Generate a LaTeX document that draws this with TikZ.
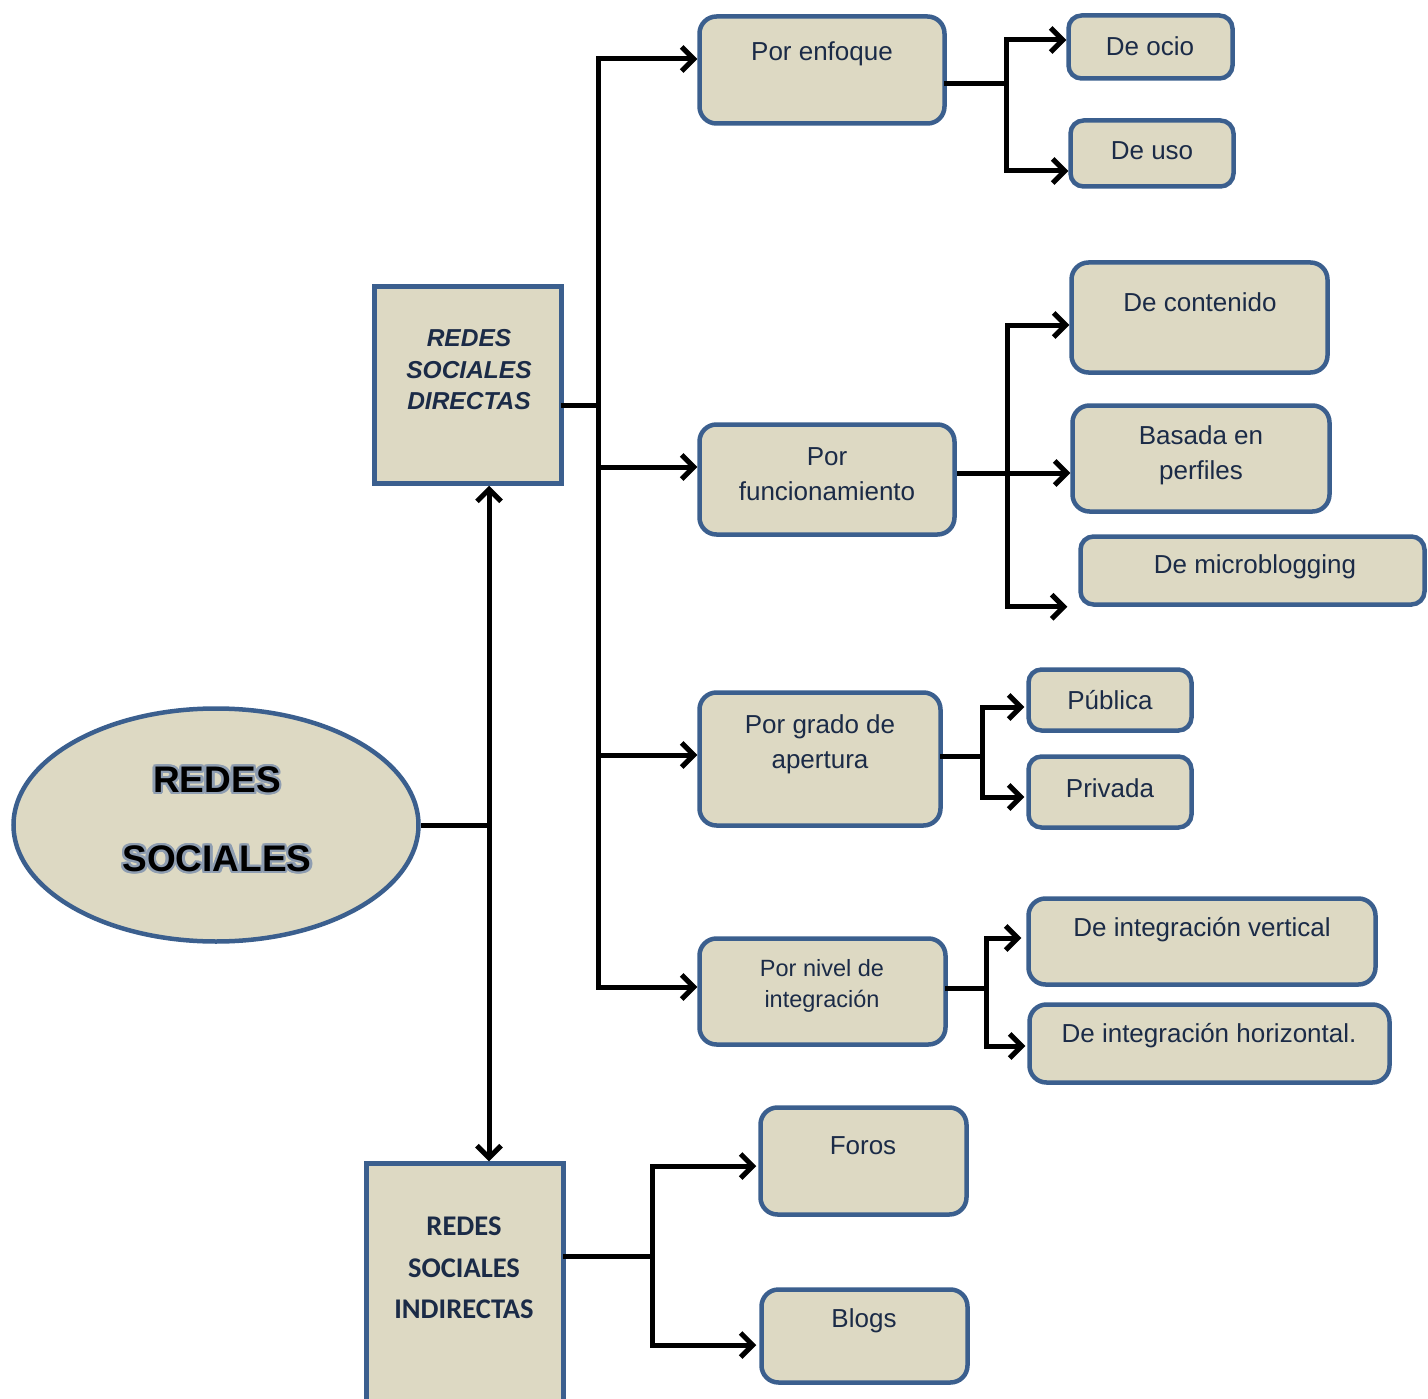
\documentclass[tikz,border=0pt]{standalone}
\usepackage{fontspec}
\setmainfont{Liberation Sans}
\newfontfamily\calib{Carlito}
\usepackage[copies]{contour}
\contourlength{2.4pt}
\contournumber{16}
\usetikzlibrary{arrows.meta,shapes.geometric}
\definecolor{boxfill}{HTML}{DDD9C3}
\definecolor{boxline}{HTML}{3B5F8E}
\definecolor{txt}{HTML}{1B2B47}
\definecolor{halo}{HTML}{8E9DB1}
\begin{document}
\begin{tikzpicture}[x=1pt,y=-1pt,
  box/.style={draw=boxline, fill=boxfill, line width=4.5pt, rounded corners=17pt, inner sep=0pt},
  sqbox/.style={draw=boxline, fill=boxfill, line width=4.5pt, inner sep=0pt},
  lbl/.style={text=txt, font=\fontsize{26}{35}\selectfont, align=center, inner sep=0pt},
  con/.style={line width=5pt, black, line cap=rect},
  tipb/.tip={Straight Barb[length=12pt,width=24pt,line width=5pt]},
  arr/.style={line width=5pt, black, -tipb},
  arrboth/.style={line width=5pt, black, tipb-tipb}]
\useasboundingbox (0,0) rectangle (1428,1399);

% ---- main ellipse
\node[draw=boxline, fill=boxfill, line width=4.5pt, ellipse, minimum width=405pt, minimum height=233pt, inner sep=0pt] (ell) at (216,825) {};
\node[align=center, inner sep=0pt, font=\fontsize{37}{79}\selectfont\bfseries] (tell) at (217,820.5) {\contour{halo}{REDES}\\\contour{halo}{SOCIALES}};

% ---- directas / indirectas
\node[sqbox, minimum width=187pt, minimum height=197pt] (dir) at (468,385) {};
\node[lbl, font=\fontsize{24.5}{31.5}\selectfont\bfseries\itshape] (tdir) at (469,370) {REDES\\SOCIALES\\DIRECTAS};
\node[sqbox, minimum width=197pt, minimum height=267pt] (ind) at (465,1297) {};
\node[lbl, font=\fontsize{28.5}{41.5}\selectfont\calib\bfseries] (tind) at (464,1268) {REDES\\SOCIALES\\INDIRECTAS};

% ---- level 2 boxes
\node[box, minimum width=245pt, minimum height=107pt] (pe) at (822,70) {};
\node[lbl] (tpe) at (822,54) {Por enfoque};
\node[box, minimum width=255pt, minimum height=110pt] (pf) at (827,479.5) {};
\node[lbl] (tpf) at (827,474.5) {Por\\funcionamiento};
\node[box, minimum width=241pt, minimum height=133pt] (pg) at (820,759) {};
\node[lbl] (tpg) at (820,744) {Por grado de\\apertura};
\node[box, minimum width=246pt, minimum height=106pt] (pn) at (822.5,991.5) {};
\node[lbl, font=\fontsize{23.5}{31}\selectfont] (tpn) at (822,985.5) {Por nivel de\\integración};
\node[box, minimum width=206pt, minimum height=107pt] (foros) at (863.5,1161) {};
\node[lbl] (tforos) at (863,1146) {Foros};
\node[box, minimum width=206pt, minimum height=93pt] (blogs) at (864.5,1336) {};
\node[lbl] (tblogs) at (864,1321) {Blogs};

% ---- level 3 boxes
\node[box, rounded corners=13pt, minimum width=164pt, minimum height=63pt] (ocio) at (1150.5,47) {};
\node[lbl] (tocio) at (1150,46) {De ocio};
\node[box, rounded corners=13pt, minimum width=163pt, minimum height=66pt] (uso) at (1152,153.5) {};
\node[lbl] (tuso) at (1152,151) {De uso};
\node[box, minimum width=256pt, minimum height=110pt] (cont) at (1199.5,317.5) {};
\node[lbl] (tcont) at (1200,302) {De contenido};
\node[box, minimum width=257pt, minimum height=106pt] (bp) at (1201,458.5) {};
\node[lbl] (tbp) at (1201,455.5) {Basada en\\perfiles};
\node[box, rounded corners=13pt, minimum width=344pt, minimum height=68pt] (mb) at (1252.5,570.5) {};
\node[lbl] (tmb) at (1255,567) {De microblogging};
\node[box, rounded corners=13pt, minimum width=163pt, minimum height=61pt] (pub) at (1110,700) {};
\node[lbl] (tpub) at (1110,700) {Pública};
\node[box, rounded corners=13pt, minimum width=163pt, minimum height=71pt] (priv) at (1110,792) {};
\node[lbl] (tpriv) at (1110,788) {Privada};
\node[box, minimum width=347pt, minimum height=86pt] (iv) at (1202,941.5) {};
\node[lbl] (tiv) at (1202,930) {De integración vertical};
\node[box, minimum width=360pt, minimum height=78pt] (ih) at (1209.5,1043.5) {};
\node[lbl] (tih) at (1209,1036) {De integración horizontal.};

% ---- connectors: ellipse and vertical double arrow
\coordinate (vx) at (489,0);
\draw[arrboth] (vx |- dir.south) -- (vx |- ind.north);
\draw[line width=5pt] (ell.east) -- (ell.east -| vx);

% ---- directas trunk
\coordinate (t1) at (598,0);
\coordinate (dirout) at ([yshift=-20pt]dir.east);
\coordinate (pein) at ([yshift=11pt]pe.west);
\coordinate (pfin) at ([yshift=12.5pt]pf.west);
\coordinate (pgin) at ([yshift=4pt]pg.west);
\coordinate (pnin) at ([yshift=4.5pt]pn.west);
\draw[con] (t1 |- pein) -- (t1 |- pnin);
\draw[con] (dirout) -- (dirout -| t1);
\draw[arr] (t1 |- pein) -- (pein);
\draw[arr] (t1 |- pfin) -- (pfin);
\draw[arr] (t1 |- pgin) -- (pgin);
\draw[arr] (t1 |- pnin) -- (pnin);

% ---- por enfoque
\coordinate (t2) at (1006,0);
\coordinate (peout) at ([yshift=-14pt]pe.east);
\coordinate (ocioin) at ([yshift=7pt]ocio.west);
\coordinate (usoin) at ([yshift=-17.5pt]uso.west);
\draw[con] (peout) -- (peout -| t2);
\draw[con] (t2 |- ocioin) -- (t2 |- usoin);
\draw[arr] (t2 |- ocioin) -- (ocioin);
\draw[arr] (t2 |- usoin) -- (usoin);

% ---- por funcionamiento
\coordinate (t3) at (1007,0);
\coordinate (pfout) at ([yshift=6.5pt]pf.east);
\coordinate (contin) at ([yshift=-7.5pt]cont.west);
\coordinate (mbin) at ([xshift=-11pt]mb.south west);
\draw[con] (t3 |- contin) -- (t3 |- mbin);
\draw[arr] (pfout) -- (pfout -| bp.west);
\draw[arr] (t3 |- contin) -- (contin);
\draw[arr] (t3 |- mbin) -- (mbin);

% ---- por grado de apertura
\coordinate (t4) at (982,0);
\coordinate (pgout) at ([yshift=3pt]pg.east);
\coordinate (pubin) at ([yshift=-7pt,xshift=-2pt]pub.west);
\coordinate (privin) at ([yshift=-5pt,xshift=-2pt]priv.west);
\draw[con] (pgout) -- (pgout -| t4);
\draw[con] (t4 |- pubin) -- (t4 |- privin);
\draw[arr] (t4 |- pubin) -- (pubin);
\draw[arr] (t4 |- privin) -- (privin);

% ---- por nivel de integracion
\coordinate (t5) at (986,0);
\coordinate (pnout) at ([yshift=3.5pt]pn.east);
\coordinate (ivin) at ([yshift=3.5pt,xshift=-5pt]iv.west);
\coordinate (ihin) at ([yshift=-2.5pt,xshift=-2pt]ih.west);
\draw[con] (pnout) -- (pnout -| t5);
\draw[con] (t5 |- ivin) -- (t5 |- ihin);
\draw[arr] (t5 |- ivin) -- (ivin);
\draw[arr] (t5 |- ihin) -- (ihin);

% ---- indirectas
\coordinate (t6) at (652,0);
\coordinate (indout) at ([yshift=40.5pt]ind.east);
\coordinate (forosin) at ([yshift=-5pt,xshift=-2pt]foros.west);
\coordinate (blogsin) at ([yshift=-9pt,xshift=-3pt]blogs.west);
\draw[con] (indout) -- (indout -| t6);
\draw[con] (t6 |- forosin) -- (t6 |- blogsin);
\draw[arr] (t6 |- forosin) -- (forosin);
\draw[arr] (t6 |- blogsin) -- (blogsin);
\end{tikzpicture}
\end{document}
